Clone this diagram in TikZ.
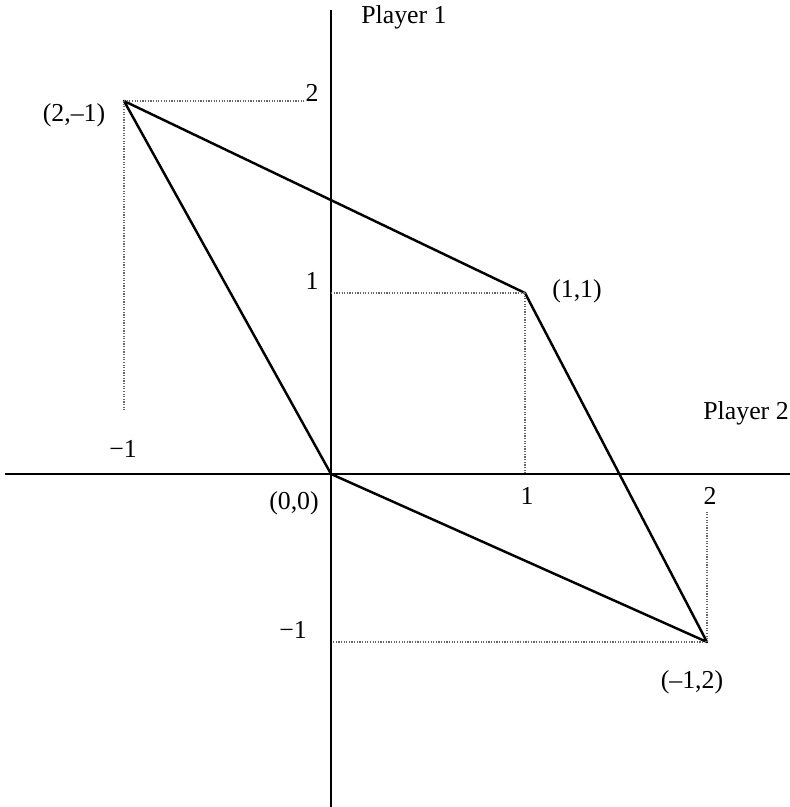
\documentclass[tikz,border=0pt]{standalone}
\usepackage{fontspec}
\setmainfont{Liberation Serif}

\providecommand{\dotguide}[2]{
    \draw[guide] (#1) -- (#2);
}

\begin{document}
\begin{tikzpicture}[
    x=0.02cm, y=0.02cm,
    axis/.style={line width=1.1pt},
    side/.style={line width=1.4pt, line join=round},
    guide/.style={black!60, line width=0.7pt, dash pattern=on 0.7pt off 0.8pt},
    lbl/.style={anchor=base, inner sep=0pt, font=\fontsize{14.7}{17}\selectfont}
]
    \useasboundingbox (-331,-333) rectangle (459,474);

    % EJES Y NOMBRES DE JUGADORES
    \coordinate (O) at (0,0);
    \coordinate (xl) at (-326,0);
    \coordinate (xr) at (459,0);
    \coordinate (yt) at (0,464);
    \coordinate (yb) at (0,-333);
    \draw[axis] (xl) -- (xr);
    \draw[axis] (yt) -- (yb);
    \node[lbl] (P1) at (73,450) {Player 1};
    \node[lbl] (P2) at (415,54) {Player 2};

    % VERTICES DEL CONJUNTO DE PAGOS
    \coordinate (A) at (-207,373);
    \coordinate (B) at (194,181);
    \coordinate (C) at (376,-168);
    \draw[side] (O) -- (A) -- (B) -- (C) -- cycle;

    % ETIQUETAS DE LOS VERTICES
    \node[lbl] (lA) at (-257,352) {(2,–1)};
    \node[lbl] (lB) at (246,176) {(1,1)};
    \node[lbl] (lC) at (361,-214) {(–1,2)};
    \node[lbl] (lO) at (-37,-36) {(0,0)};

    % MARCAS DE LOS EJES
    \node[lbl] (ty2) at (-19,372) {2};
    \node[lbl] (ty1) at (-19,184) {1};
    \node[lbl] (tym) at (-38,-164) {−1};
    \node[lbl] (tx1) at (196,-31) {1};
    \node[lbl] (tx2) at (379,-31) {2};
    \node[lbl] (txm) at (-208,16) {−1};

    % LINEAS PUNTEADAS DE PROYECCION
    \coordinate (gA1) at (-26,373);
    \coordinate (gA2) at (-207,64);
    \coordinate (gB1) at (0,181);
    \coordinate (gB2) at (194,0);
    \coordinate (gC1) at (376,-38);
    \coordinate (gC2) at (2,-168);
    \dotguide{A}{gA1}
    \dotguide{A}{gA2}
    \dotguide{gB1}{B}
    \dotguide{B}{gB2}
    \dotguide{C}{gC1}
    \dotguide{gC2}{C}

\end{tikzpicture}
\end{document}
